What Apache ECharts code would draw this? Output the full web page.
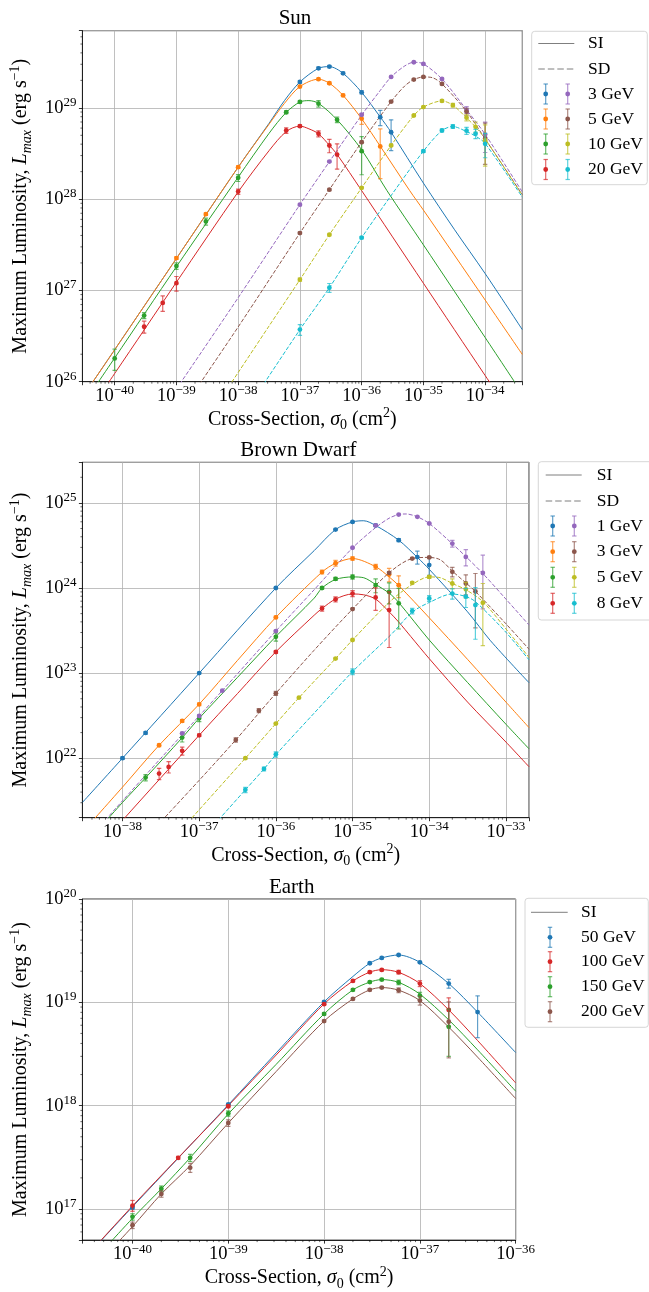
<!DOCTYPE html>
<html><head><meta charset="utf-8">
<script src="https://cdn.jsdelivr.net/npm/echarts@6/dist/echarts.min.js"></script>
<style>html,body{margin:0;padding:0;background:#fff}#c{width:649px;height:1292px}</style>
</head><body><div id="c"></div>
<script>
// ================= DATA =================
// axis ranges [min, max]
const sunXRange = [3e-41, 4e-34];
const sunYRange = [1e26, 7e29];
const bdXRange = [3e-39, 2e-33];
const bdYRange = [2e21, 3e25];
const earthXRange = [3e-41, 1e-36];
const earthYRange = [5e16, 1e20];

const panelTitles = ['Sun', 'Brown Dwarf', 'Earth'];
const sunMasses = ['3 GeV', '5 GeV', '10 GeV', '20 GeV'];
const bdMasses = ['1 GeV', '3 GeV', '5 GeV', '8 GeV'];
const earthMasses = ['50 GeV', '100 GeV', '150 GeV', '200 GeV'];
const lineTypes = ['SI', 'SD'];

// ---- Sun: model curves [sigma0 (cm^2), Lmax (erg/s)]
const sunSI3 = [[3e-41,6.76e25],[1e-40,2.24e26],[1e-39,2.24e27],[1e-38,2.24e28],[3.16e-38,6.76e28],[5.62e-38,1.20e29],[1e-37,1.92e29],[2e-37,2.71e29],[3e-37,2.83e29],[5e-37,2.39e29],[1e-36,1.48e29],[2e-36,7.94e28],[3e-36,5.41e28],[1e-35,1.50e28],[3.16e-35,4.68e27],[1e-34,1.53e27],[4e-34,3.72e26]];
const sunSI5 = [[3e-41,6.76e25],[1e-40,2.24e26],[1e-39,2.24e27],[1e-38,2.24e28],[3.16e-38,6.61e28],[5.62e-38,1.12e29],[1e-37,1.71e29],[2e-37,2.06e29],[3e-37,1.86e29],[5e-37,1.37e29],[1e-36,7.59e28],[2e-36,3.80e28],[6e-36,1.24e28],[1e-35,7.59e27],[3.16e-35,2.45e27],[1e-34,7.85e26],[4e-34,1.99e26]];
const sunSI10 = [[3e-41,5.5e25],[1e-40,1.82e26],[1e-39,1.82e27],[1e-38,1.74e28],[3.16e-38,5.25e28],[6e-38,8.91e28],[1e-37,1.16e29],[1.4e-37,1.20e29],[2e-37,1.12e29],[4e-37,7.41e28],[1e-36,3.47e28],[2.57e-36,1.24e28],[1e-35,3.16e27],[1e-34,3.05e26],[4e-34,7.41e25]];
const sunSI20 = [[3e-41,3.72e25],[1e-40,1.23e26],[1e-39,1.23e27],[1e-38,1.20e28],[3.16e-38,3.39e28],[6e-38,5.50e28],[1e-37,6.31e28],[1.4e-37,5.89e28],[2e-37,5.20e28],[3e-37,3.89e28],[4e-37,3.09e28],[1e-36,1.24e28],[1e-35,1.20e27],[1e-34,1.17e26],[4e-34,2.95e25]];
const sunSD3 = [[1e-39,8.32e25],[1e-38,8.32e26],[1e-37,8.71e27],[3e-37,2.57e28],[1e-36,8.32e28],[2e-36,1.55e29],[3e-36,2.18e29],[5e-36,2.88e29],[7e-36,3.16e29],[1e-35,3.03e29],[2e-35,2.07e29],[5e-35,9.51e28],[1e-34,5.13e28],[4e-34,1.20e28]];
const sunSD5 = [[1e-39,3.98e25],[1e-38,3.98e26],[1e-37,4.25e27],[3e-37,1.27e28],[1e-36,4.21e28],[3e-36,1.17e29],[5e-36,1.74e29],[7e-36,2.04e29],[1e-35,2.18e29],[1.4e-35,2.14e29],[2e-35,1.83e29],[5e-35,9.12e28],[1e-34,4.57e28],[4e-34,1.12e28]];
const sunSD10 = [[3e-39,3.72e25],[1e-38,1.26e26],[3.16e-38,4.07e26],[1e-37,1.31e27],[3e-37,4.07e27],[1e-36,1.33e28],[3e-36,3.87e28],[7e-36,8.24e28],[1e-35,1.02e29],[2e-35,1.19e29],[3e-35,1.07e29],[5e-35,7.76e28],[7e-35,6.17e28],[1e-34,4.57e28],[4e-34,1.10e28]];
const sunSD20 = [[1e-38,3.55e25],[1e-37,3.72e26],[3e-37,1.07e27],[1e-36,3.78e27],[3.16e-36,1.15e28],[1e-35,3.35e28],[2e-35,5.65e28],[3e-35,6.24e28],[5e-35,5.50e28],[7e-35,4.90e28],[1e-34,4.07e28],[4e-34,1.05e28]];
// ---- Sun: simulated points [sigma0, Lmax, error]
const sunSI3pts = [[1e-37,1.92e29,0.06e29],[2e-37,2.71e29,0.08e29],[3e-37,2.83e29,0.08e29],[5e-37,2.39e29,0.07e29],[1e-36,1.48e29,0.06e29],[2e-36,7.9e28,1.5e28],[3e-36,5.4e28,2.0e28]];
const sunSI5pts = [[1e-39,2.26e27,0.07e27],[3e-39,6.85e27,0.2e27],[1e-38,2.24e28,0.07e28],[1e-37,1.71e29,0.05e29],[2e-37,2.06e29,0.05e29],[3e-37,1.86e29,0.05e29],[5e-37,1.37e29,0.04e29],[1e-36,7.6e28,1.0e28],[2e-36,3.78e28,2.1e28]];
const sunSI10pts = [[1e-40,1.8e26,0.47e26],[3e-40,5.3e26,0.4e26],[1e-39,1.85e27,0.15e27],[3e-39,5.7e27,0.5e27],[1e-38,1.71e28,0.15e28],[6e-38,8.95e28,0.3e28],[1e-37,1.16e29,0.03e29],[2e-37,1.11e29,0.09e29],[4e-37,7.4e28,0.5e28],[1e-36,3.35e28,1.5e28]];
const sunSI20pts = [[3e-40,4.0e26,0.6e26],[6e-40,7.3e26,1.4e26],[1e-39,1.2e27,0.22e27],[1e-38,1.21e28,0.08e28],[6e-38,5.65e28,0.4e28],[1e-37,6.3e28,0.2e28],[2e-37,5.2e28,0.4e28],[3e-37,3.87e28,0.65e28],[4e-37,3.08e28,0.95e28]];
const sunSD3pts = [[1e-37,8.7e27,0.2e27],[3e-37,2.58e28,0.05e28],[1e-36,8.4e28,0.2e28],[3e-36,2.18e29,0.04e29],[7e-36,3.16e29,0.05e29],[1e-35,3.03e29,0.05e29],[2e-35,2.07e29,0.05e29],[5e-35,9.5e28,0.8e28],[1e-34,5.1e28,1.86e28]];
const sunSD5pts = [[1e-37,4.25e27,0.1e27],[3e-37,1.27e28,0.03e28],[1e-36,4.2e28,0.1e28],[3e-36,1.17e29,0.03e29],[7e-36,2.04e29,0.04e29],[1e-35,2.18e29,0.04e29],[2e-35,1.83e29,0.05e29],[5e-35,9.1e28,0.8e28],[1e-34,4.6e28,2.2e28]];
const sunSD10pts = [[1e-37,1.31e27,0.05e27],[3e-37,4.07e27,0.1e27],[1e-36,1.33e28,0.03e28],[3e-36,3.87e28,0.1e28],[7e-36,8.24e28,0.2e28],[1e-35,1.02e29,0.02e29],[2e-35,1.19e29,0.03e29],[3e-35,1.07e29,0.05e29],[5e-35,7.8e28,0.6e28],[7e-35,6.2e28,0.8e28],[1e-34,4.4e28,2.1e28]];
const sunSD20pts = [[1e-37,3.72e26,0.5e26],[3e-37,1.07e27,0.12e27],[1e-36,3.78e27,0.1e27],[1e-35,3.35e28,0.1e28],[2e-35,5.65e28,0.2e28],[3e-35,6.24e28,0.3e28],[5e-35,5.62e28,0.5e28],[7e-35,5.2e28,0.6e28],[1e-34,4.04e28,1.2e28]];

// ---- Brown dwarf: model curves
const bdSI1 = [[3e-39,3.02e21],[1e-38,1.0e22],[1e-37,1.0e23],[1e-36,1.0e24],[3.16e-36,2.75e24],[6e-36,4.86e24],[1e-35,5.98e24],[1.4e-35,6.17e24],[2e-35,5.43e24],[4e-35,3.65e24],[7e-35,2.29e24],[1e-34,1.66e24],[3.16e-34,5.25e23],[6.3e-34,2.40e23],[2e-33,7.71e22]];
const bdSI3 = [[3e-39,1.35e21],[1e-38,4.57e21],[3e-38,1.42e22],[1e-37,4.31e22],[3.16e-37,1.41e23],[1e-36,4.52e23],[4e-36,1.54e24],[6e-36,1.95e24],[1e-35,2.22e24],[2e-35,1.78e24],[3e-35,1.35e24],[4e-35,1.07e24],[1e-34,4.47e23],[3.16e-34,1.45e23],[1e-33,4.57e22],[2e-33,2.29e22]];
const bdSI5 = [[3e-39,8.9e20],[1e-38,3.02e21],[2e-38,5.89e21],[6e-38,1.74e22],[1e-37,2.95e22],[3.16e-37,8.91e22],[1e-36,2.69e23],[3.16e-36,7.6e23],[4e-36,1.0e24],[6e-36,1.26e24],[1e-35,1.35e24],[1.4e-35,1.32e24],[2e-35,1.10e24],[3e-35,8.71e23],[4e-35,6.76e23],[1e-34,2.45e23],[3.16e-34,7.76e22],[1e-33,2.51e22],[2e-33,1.29e22]];
const bdSI8 = [[3e-39,5.5e20],[1e-38,1.86e21],[3.16e-38,5.89e21],[1e-37,1.86e22],[3.16e-37,5.75e22],[1e-36,1.78e23],[3.16e-36,4.79e23],[4e-36,5.75e23],[6e-36,7.41e23],[1e-35,8.51e23],[1.4e-35,8.32e23],[2e-35,7.41e23],[3e-35,5.25e23],[4e-35,3.98e23],[5.75e-35,2.69e23],[1e-34,1.48e23],[3.16e-34,4.57e22],[1e-33,1.55e22],[2e-33,7.94e21]];
const bdSD1 = [[3e-39,9.3e20],[1e-38,3.16e21],[1e-37,3.14e22],[2e-37,6.22e22],[1e-36,3.12e23],[3.16e-36,9.55e23],[1e-35,2.96e24],[2e-35,5.13e24],[3e-35,6.61e24],[4e-35,7.31e24],[5e-35,7.41e24],[7e-35,6.86e24],[1e-34,5.73e24],[2e-34,3.31e24],[3e-34,2.34e24],[5e-34,1.48e24],[1e-33,7.41e23],[2e-33,3.67e23]];
const bdSD3 = [[2e-38,1.15e21],[1e-37,5.5e21],[3e-37,1.64e22],[6e-37,3.39e22],[1e-36,5.79e22],[3.16e-36,1.86e23],[1e-35,5.65e23],[3e-35,1.51e24],[6e-35,2.22e24],[1e-34,2.29e24],[1.4e-34,2.14e24],[2e-34,1.58e24],[3e-34,1.15e24],[4e-34,9.12e23],[1e-33,3.80e23],[2e-33,1.91e23]];
const bdSD5 = [[3.16e-38,7.8e20],[4e-37,1.0e22],[1e-36,2.55e22],[2e-36,5.14e22],[6e-36,1.48e23],[1e-35,2.45e23],[3.16e-35,7.08e23],[6e-35,1.10e24],[1e-34,1.35e24],[1.4e-34,1.32e24],[2e-34,1.13e24],[3e-34,9.55e23],[5e-34,6.92e23],[1e-33,3.31e23],[2e-33,1.53e23]];
const bdSD8 = [[1e-37,1.05e21],[4e-37,4.25e21],[7e-37,7.48e21],[1e-36,1.10e22],[3.16e-36,3.39e22],[1e-35,1.04e23],[3.16e-35,2.82e23],[6e-35,5.2e23],[1e-34,6.76e23],[2e-34,8.51e23],[3e-34,7.94e23],[4e-34,6.92e23],[1e-33,3.02e23],[2e-33,1.43e23]];
// ---- Brown dwarf: simulated points
const bdSI1pts = [[1e-38,1.0e22,0.03e22],[2e-38,1.98e22,0.06e22],[1e-37,1.0e23,0.02e23],[1e-36,1.0e24,0.02e24],[6e-36,4.86e24,0.1e24],[1e-35,5.98e24,0.1e24],[2e-35,5.43e24,0.15e24],[4e-35,3.65e24,0.15e24],[7e-35,2.31e24,0.4e24],[1e-34,1.86e24,0.45e24]];
const bdSI3pts = [[3e-38,1.42e22,0.05e22],[6e-38,2.74e22,0.1e22],[1e-37,4.3e22,0.15e22],[1e-36,4.52e23,0.15e23],[4e-36,1.54e24,0.08e24],[6e-36,1.96e24,0.15e24],[1e-35,2.22e24,0.1e24],[2e-35,1.78e24,0.12e24],[3e-35,1.44e24,0.26e24],[4e-35,1.08e24,0.31e24]];
const bdSI5pts = [[2e-38,5.92e21,0.5e21],[6e-38,1.75e22,0.2e22],[1e-37,2.94e22,0.25e22],[1e-36,2.67e23,0.3e23],[4e-36,1.0e24,0.03e24],[6e-36,1.28e24,0.05e24],[1e-35,1.35e24,0.08e24],[2e-35,1.08e24,0.2e24],[3e-35,9.0e23,2.5e23],[4e-35,6.6e23,3.3e23]];
const bdSI8pts = [[3e-38,6.6e21,1.0e21],[4e-38,7.9e21,1.2e21],[6e-38,1.22e22,0.13e22],[1e-37,1.86e22,0.06e22],[1e-36,1.77e23,0.06e23],[4e-36,5.75e23,0.4e23],[6e-36,7.35e23,0.5e23],[1e-35,8.6e23,0.7e23],[2e-35,7.76e23,2.3e23],[3e-35,5.5e23,3.5e23]];
const bdSD1pts = [[6e-38,1.96e22,0.05e22],[1e-37,3.14e22,0.08e22],[2e-37,6.22e22,0.1e22],[1e-36,3.12e23,0.05e23],[1e-35,2.97e24,0.05e24],[2e-35,5.43e24,0.1e24],[4e-35,7.3e24,0.1e24],[7e-35,6.86e24,0.1e24],[1e-34,5.73e24,0.1e24],[2e-34,3.33e24,0.3e24],[3e-34,2.32e24,0.5e24],[5e-34,1.5e24,0.93e24]];
const bdSD3pts = [[3e-37,1.64e22,0.1e22],[6e-37,3.62e22,0.2e22],[1e-36,5.79e22,0.3e22],[1e-35,5.65e23,0.1e23],[3e-35,1.51e24,0.05e24],[6e-35,2.22e24,0.05e24],[1e-34,2.29e24,0.05e24],[2e-34,1.55e24,0.2e24],[3e-34,1.13e24,0.3e24],[4e-34,9.1e23,5.7e23]];
const bdSD5pts = [[4e-37,1.0e22,0.02e22],[1e-36,2.55e22,0.05e22],[2e-36,5.14e22,0.1e22],[6e-36,1.48e23,0.03e23],[1e-35,2.45e23,0.05e23],[6e-35,1.15e24,0.03e24],[1e-34,1.35e24,0.05e24],[2e-34,1.13e24,0.15e24],[3e-34,9.64e23,2.0e23],[5e-34,6.7e23,4.6e23]];
const bdSD8pts = [[4e-37,4.25e21,0.3e21],[7e-37,7.48e21,0.4e21],[1e-36,1.11e22,0.08e22],[1e-35,1.04e23,0.08e23],[6e-35,5.36e23,0.4e23],[1e-34,7.55e23,0.6e23],[2e-34,8.6e23,1.2e23],[3e-34,7.9e23,2.0e23],[4e-34,6.3e23,3.8e23]];

// ---- Earth: model curves (SI only)
const earthSI50 = [[3e-41,3.16e16],[1e-40,1.05e17],[1e-39,1.02e18],[3.16e-39,3.24e18],[1e-38,1.01e19],[2e-38,1.78e19],[3e-38,2.39e19],[4e-38,2.69e19],[6e-38,2.87e19],[1e-37,2.44e19],[2e-37,1.52e19],[4e-37,8.04e18],[1e-36,3.26e18]];
const earthSI100 = [[3e-41,3.16e16],[1e-40,1.07e17],[3e-40,3.13e17],[1e-39,1.0e18],[3.16e-39,3.09e18],[1e-38,9.66e18],[2e-38,1.61e19],[3e-38,1.96e19],[4e-38,2.07e19],[6e-38,1.95e19],[1e-37,1.52e19],[2e-37,8.45e18],[4e-37,4.27e18],[1e-36,1.66e18]];
const earthSI150 = [[3e-41,2.40e16],[1e-40,8.13e16],[2e-40,1.57e17],[4e-40,3.13e17],[1e-39,8.32e17],[3.16e-39,2.51e18],[1e-38,7.73e18],[2e-38,1.32e19],[3e-38,1.57e19],[4e-38,1.66e19],[6e-38,1.56e19],[1e-37,1.20e19],[2e-37,6.76e18],[4e-37,3.47e18],[1e-36,1.38e18]];
const earthSI200 = [[3e-41,2.04e16],[1e-40,6.76e16],[2e-40,1.40e17],[4e-40,2.63e17],[1e-39,6.79e17],[3.16e-39,2.14e18],[1e-38,6.59e18],[2e-38,1.08e19],[3e-38,1.32e19],[4e-38,1.39e19],[6e-38,1.31e19],[1e-37,1.04e19],[2e-37,5.75e18],[4e-37,2.95e18],[1e-36,1.17e18]];
// ---- Earth: simulated points
const earth50pts = [[1e-40,1.03e17,0.03e17],[1e-39,1.03e18,0.02e18],[1e-38,1.01e19,0.02e19],[3e-38,2.39e19,0.05e19],[4e-38,2.69e19,0.05e19],[6e-38,2.87e19,0.04e19],[1e-37,2.44e19,0.05e19],[2e-37,1.52e19,0.15e19],[4e-37,8.05e18,3.5e18]];
const earth100pts = [[1e-40,1.08e17,0.13e17],[3e-40,3.13e17,0.1e17],[1e-39,9.87e17,0.3e17],[1e-38,9.6e18,0.2e18],[2e-38,1.61e19,0.03e19],[3e-38,1.96e19,0.04e19],[4e-38,2.06e19,0.04e19],[6e-38,1.96e19,0.08e19],[1e-37,1.52e19,0.1e19],[2e-37,8.45e18,2.6e18]];
const earth150pts = [[1e-40,8.4e16,0.6e16],[2e-40,1.57e17,0.1e17],[4e-40,3.13e17,0.25e17],[1e-39,8.4e17,0.5e17],[1e-38,7.73e18,0.2e18],[2e-38,1.32e19,0.03e19],[3e-38,1.57e19,0.03e19],[4e-38,1.66e19,0.04e19],[6e-38,1.56e19,0.08e19],[1e-37,1.16e19,0.09e19],[2e-37,5.8e18,2.8e18]];
const earth200pts = [[1e-40,6.97e16,0.5e16],[2e-40,1.4e17,0.1e17],[4e-40,2.51e17,0.25e17],[1e-39,6.8e17,0.5e17],[1e-38,6.59e18,0.15e18],[2e-38,1.08e19,0.02e19],[3e-38,1.32e19,0.03e19],[4e-38,1.39e19,0.03e19],[6e-38,1.31e19,0.07e19],[1e-37,1.04e19,0.1e19],[2e-37,6.5e18,3.6e18]];

// ================= STYLE / LAYOUT =================
const C = {blue:'#1f77b4', orange:'#ff7f0e', green:'#2ca02c', red:'#d62728', purple:'#9467bd', brown:'#8c564b', olive:'#bcbd22', cyan:'#17becf', gray:'#7f7f7f'};
const FONT = "'Liberation Serif', 'DejaVu Serif', serif";
const lg = Math.log10;

const grids = [
  {left: 67.7, top: 30.7, width: 454.6, height: 351},
  {left: 67.7, top: 462.3, width: 461.3, height: 355.4},
  {left: 67.7, top: 899, width: 448, height: 346.7}
];
const ranges = [[sunXRange, sunYRange, 7, 4], [bdXRange, bdYRange, 6, 4], [earthXRange, earthYRange, 4, 3]];

const tickRich = {
  b: {fontFamily: FONT, fontSize: 18.5, lineHeight: 24, color: '#000'},
  s: {fontFamily: FONT, fontSize: 13, lineHeight: 13, verticalAlign: 'top', color: '#000'}
};
function powLabel(v) {
  const r = Math.round(v);
  if (Math.abs(v - r) > 1e-6) return '';
  return '{b|10}{s|' + (r < 0 ? '\u2212' + (-r) : String(r)) + '}';
}
const nameRich = {
  n: {fontFamily: FONT, fontSize: 20, lineHeight: 26, color: '#000'},
  i: {fontFamily: FONT, fontSize: 20, lineHeight: 26, fontStyle: 'italic', color: '#000'},
  sb: {fontFamily: FONT, fontSize: 14, lineHeight: 14, verticalAlign: 'bottom', color: '#000'},
  isb: {fontFamily: FONT, fontSize: 14, lineHeight: 14, verticalAlign: 'bottom', fontStyle: 'italic', color: '#000'},
  sp: {fontFamily: FONT, fontSize: 14, lineHeight: 14, verticalAlign: 'top', color: '#000'}
};
const xName = '{n|Cross-Section, }{i|\u03c3}{sb|0}{n| (cm}{sp|2}{n|)}';
const yName = '{n|Maximum Luminosity, }{i|L}{isb|max}{n| (erg s}{sp|\u22121}{n|)}';

const xAxes = [], yAxes = [], series = [], titles = [], graphics = [];

ranges.forEach((r, gi) => {
  const common = {
    type: 'value', gridIndex: gi,
    axisLine: {show: true, onZero: false, lineStyle: {color: '#000', width: 0.8}},
    axisTick: {show: true, inside: false, length: 3.5, lineStyle: {color: '#000', width: 0.8}},
    splitLine: {show: true, lineStyle: {color: '#b0b0b0', width: 0.8}},
    nameLocation: 'middle',
    nameTextStyle: {fontFamily: FONT, fontSize: 20, color: '#000', rich: nameRich}
  };
  xAxes.push(Object.assign({}, common, {
    position: 'bottom', min: lg(r[0][0]), max: lg(r[0][1]), splitNumber: r[2],
    axisLabel: {margin: 2.5, formatter: powLabel, rich: tickRich, color: '#000'},
    name: xName, nameGap: 23
  }));
  yAxes.push(Object.assign({}, common, {
    position: 'left', min: lg(r[1][0]), max: lg(r[1][1]), splitNumber: r[3],
    axisLabel: {margin: 6, formatter: powLabel, rich: tickRich, color: '#000'},
    name: yName, nameGap: 36, nameRotate: 90
  }));
  const g = grids[gi];
  titles.push({text: panelTitles[gi], left: g.left + g.width / 2, top: g.top - 12, padding: 0,
    textAlign: 'center', textVerticalAlign: 'middle',
    textStyle: {fontFamily: FONT, fontSize: 21, fontWeight: 'normal', color: '#000'}});
  // minor ticks at 2..9 x 10^n
  const x0 = lg(r[0][0]), x1 = lg(r[0][1]), y0 = lg(r[1][0]), y1 = lg(r[1][1]);
  const mdata = [];
  for (let n = Math.floor(x0); n <= Math.ceil(x1); n++) for (let k = 2; k <= 9; k++) { const v = n + lg(k); if (v > x0 && v < x1) mdata.push([v, y0, 0]); }
  for (let n = Math.floor(y0); n <= Math.ceil(y1); n++) for (let k = 2; k <= 9; k++) { const v = n + lg(k); if (v > y0 && v < y1) mdata.push([x0, v, 1]); }
  series.push({type: 'custom', xAxisIndex: gi, yAxisIndex: gi, data: mdata, clip: false, silent: true, z: 6,
    encode: {x: 0, y: 1},
    renderItem(params, api) {
      const p = api.coord([api.value(0), api.value(1)]);
      const isX = api.value(2) === 0;
      return {type: 'line', shape: isX ? {x1: p[0], y1: p[1], x2: p[0], y2: p[1] + 2} : {x1: p[0] - 2, y1: p[1], x2: p[0], y2: p[1]},
        style: {stroke: '#000', lineWidth: 0.6}};
    }});
});

function addCurve(gi, data, color, dashed) {
  series.push({type: 'line', xAxisIndex: gi, yAxisIndex: gi,
    data: data.map(d => [lg(d[0]), lg(d[1])]),
    showSymbol: false, symbol: 'none', smooth: 0.3, clip: true, silent: true, z: 2,
    lineStyle: {color: color, width: 1, type: dashed ? [4, 1.8] : 'solid'}});
}
function addErr(gi, pts, color) {
  const yMin = lg(ranges[gi][1][0]);
  series.push({type: 'custom', xAxisIndex: gi, yAxisIndex: gi, clip: true, silent: true, z: 3,
    encode: {x: 0, y: 1},
    data: pts.map(p => [lg(p[0]), lg(p[1]), p[1] - p[2] > 0 ? lg(p[1] - p[2]) : yMin - 1, lg(p[1] + p[2])]),
    renderItem(params, api) {
      const p = api.coord([api.value(0), api.value(1)]);
      const lo = api.coord([api.value(0), api.value(2)]);
      const hi = api.coord([api.value(0), api.value(3)]);
      const st = {stroke: color, lineWidth: 1.2, opacity: 0.7};
      return {type: 'group', children: [
        {type: 'line', shape: {x1: p[0], y1: lo[1], x2: p[0], y2: hi[1]}, style: st},
        {type: 'line', shape: {x1: p[0] - 2.2, y1: lo[1], x2: p[0] + 2.2, y2: lo[1]}, style: st},
        {type: 'line', shape: {x1: p[0] - 2.2, y1: hi[1], x2: p[0] + 2.2, y2: hi[1]}, style: st},
        {type: 'circle', shape: {cx: p[0], cy: p[1], r: 2.4}, style: {fill: color}}
      ]};
    }});
}

// Sun
const sunSIc = [sunSI3, sunSI5, sunSI10, sunSI20], sunSDc = [sunSD3, sunSD5, sunSD10, sunSD20];
const sunSIp = [sunSI3pts, sunSI5pts, sunSI10pts, sunSI20pts], sunSDp = [sunSD3pts, sunSD5pts, sunSD10pts, sunSD20pts];
const siColors = [C.blue, C.orange, C.green, C.red], sdColors = [C.purple, C.brown, C.olive, C.cyan];
for (let i = 0; i < 4; i++) { addCurve(0, sunSIc[i], siColors[i], false); addErr(0, sunSIp[i], siColors[i]); }
for (let i = 0; i < 4; i++) { addCurve(0, sunSDc[i], sdColors[i], true); addErr(0, sunSDp[i], sdColors[i]); }
// Brown dwarf
const bdSIc = [bdSI1, bdSI3, bdSI5, bdSI8], bdSDc = [bdSD1, bdSD3, bdSD5, bdSD8];
const bdSIp = [bdSI1pts, bdSI3pts, bdSI5pts, bdSI8pts], bdSDp = [bdSD1pts, bdSD3pts, bdSD5pts, bdSD8pts];
for (let i = 0; i < 4; i++) { addCurve(1, bdSIc[i], siColors[i], false); addErr(1, bdSIp[i], siColors[i]); }
for (let i = 0; i < 4; i++) { addCurve(1, bdSDc[i], sdColors[i], true); addErr(1, bdSDp[i], sdColors[i]); }
// Earth
const earthC = [earthSI50, earthSI100, earthSI150, earthSI200];
const earthP = [earth50pts, earth100pts, earth150pts, earth200pts];
const earthColors = [C.blue, C.red, C.green, C.brown];
for (let i = 0; i < 4; i++) { addCurve(2, earthC[i], earthColors[i], false); addErr(2, earthP[i], earthColors[i]); }

// ================= LEGENDS (graphic) =================
function errIcon(x, y, color) {
  const st = {stroke: color, lineWidth: 1.2, opacity: 0.7};
  return [
    {type: 'line', shape: {x1: x, y1: y - 10, x2: x, y2: y + 10}, style: st},
    {type: 'line', shape: {x1: x - 2.2, y1: y - 10, x2: x + 2.2, y2: y - 10}, style: st},
    {type: 'line', shape: {x1: x - 2.2, y1: y + 10, x2: x + 2.2, y2: y + 10}, style: st},
    {type: 'circle', shape: {cx: x, cy: y, r: 2.4}, style: {fill: color}}
  ];
}
function txt(x, y, s) {
  return {type: 'text', x: x, y: y, style: {text: s, fontFamily: FONT, fontSize: 17.5, fill: '#000', align: 'left', verticalAlign: 'middle'}};
}
function makeLegend(L, masses, cols, withSD) {
  const ch = [];
  ch.push({type: 'rect', shape: {x: L.box[0], y: L.box[1], width: L.box[2], height: L.box[3], r: 3},
    style: {fill: 'rgba(255,255,255,0.8)', stroke: '#cccccc', lineWidth: 0.8}});
  let row = 0;
  ch.push({type: 'line', shape: {x1: L.line[0], y1: L.rows[row], x2: L.line[1], y2: L.rows[row]}, style: {stroke: C.gray, lineWidth: 1}});
  ch.push(txt(L.text, L.rows[row], lineTypes[0])); row++;
  if (withSD) {
    ch.push({type: 'line', shape: {x1: L.line[0], y1: L.rows[row], x2: L.line[1], y2: L.rows[row]}, style: {stroke: C.gray, lineWidth: 1, lineDash: [6.5, 3]}});
    ch.push(txt(L.text, L.rows[row], lineTypes[1])); row++;
  }
  masses.forEach((m, i) => {
    cols.forEach((cs, j) => { errIcon(L.icons[j], L.rows[row], cs[i]).forEach(e => ch.push(e)); });
    ch.push(txt(L.text, L.rows[row], m)); row++;
  });
  return {type: 'group', z: 100, children: ch};
}
graphics.push(makeLegend({box: [531.7, 31.3, 115.6, 153.4], line: [538.3, 574.3], text: 588, icons: [545.7, 567.7], rows: [43.5, 69, 94, 119, 144, 169.5]}, sunMasses, [siColors, sdColors], true));
graphics.push(makeLegend({box: [538.3, 461.7, 115, 158.3], line: [545.7, 581.7], text: 596.7, icons: [552.7, 574.3], rows: [475, 501, 526, 551.7, 577.3, 603.3]}, bdMasses, [siColors, sdColors], true));
graphics.push(makeLegend({box: [525, 898.3, 123.3, 129], line: [531, 567.7], text: 581, icons: [550], rows: [912.3, 937.3, 961.7, 986.7, 1011.7]}, earthMasses, [earthColors], false));

const chart = echarts.init(document.getElementById('c'), null, {renderer: 'canvas'});
chart.setOption({
  animation: false,
  backgroundColor: '#fff',
  title: titles,
  grid: grids.map(g => Object.assign({show: true, borderColor: '#000', borderWidth: 0.8, backgroundColor: 'transparent', containLabel: false}, g)),
  xAxis: xAxes,
  yAxis: yAxes,
  series: series,
  graphic: graphics
});
</script>
</body></html>
